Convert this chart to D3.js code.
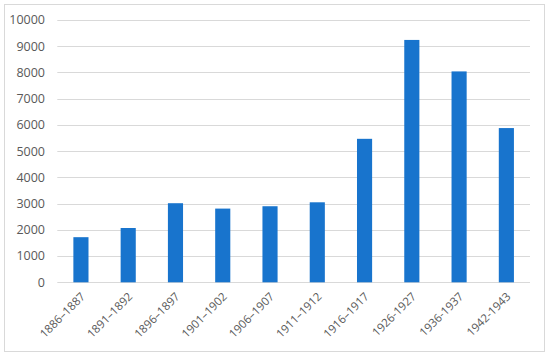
<!DOCTYPE html>
<html lang="en">
<head>
<meta charset="utf-8">
<title>bars</title>
<script src="https://cdn.jsdelivr.net/npm/d3@7"></script>
<style>
body{margin:0;background:#fff;font-family:"Open Sans",Calibri,sans-serif}
</style>
</head>
<body>
<div id="chart"></div>
<script>
// periods and counts
var periods = ["1886–1887","1891–1892","1896–1897","1901–1902","1906–1907","1911–1912","1916–1917","1926-1927","1936-1937","1942-1943"]
var counts = [1720,2070,3015,2810,2900,3050,5470,9240,8040,5880]
var yTicks = [0,1000,2000,3000,4000,5000,6000,7000,8000,9000,10000]

var w = 550, h = 357
var plotLeft = 57.3, plotRight = 530, plotTop = 20, plotBottom = 282.3

var svg = d3.select("#chart").append("svg")
	.attr("width",w).attr("height",h)

//outer frame
svg.append("rect")
	.attr("x",4.5).attr("y",4.5)
	.attr("width",540).attr("height",347)
	.attr("fill","#fff").attr("stroke","#d9d9d9")

var x = d3.scaleBand().domain(periods).range([plotLeft,plotRight]).paddingInner(0.68).paddingOuter(0.34)
var y = d3.scaleLinear().domain([0,10000]).range([plotBottom,plotTop])

//grid
svg.selectAll(".grid").data(yTicks).enter().append("line")
	.attr("class","grid")
	.attr("x1",plotLeft).attr("x2",plotRight)
	.attr("y1",function(d){return Math.round(y(d))+0.5})
	.attr("y2",function(d){return Math.round(y(d))+0.5})
	.attr("stroke","#d9d9d9").attr("stroke-width",1)

//y labels
svg.selectAll(".ylab").data(yTicks).enter().append("text")
	.attr("class","ylab")
	.attr("x",45).attr("y",function(d){return y(d)})
	.attr("dy","0.35em")
	.attr("text-anchor","end")
	.attr("font-size",12.5)
	.attr("fill","#595959")
	.text(function(d){return d})

//bars
svg.selectAll(".bar").data(counts).enter().append("rect")
	.attr("class","bar")
	.attr("x",function(d,i){return x(periods[i])})
	.attr("width",x.bandwidth())
	.attr("y",function(d){return y(d)})
	.attr("height",function(d){return y(0)-y(d)})
	.attr("fill","#1874cd")

//x labels, rotated
svg.selectAll(".xlab").data(periods).enter().append("text")
	.attr("class","xlab")
	.attr("text-anchor","end")
	.attr("font-size",11.5)
	.attr("fill","#595959")
	.attr("transform",function(d){
		var cx = x(d)+x.bandwidth()/2+5
		return "translate("+cx+","+(plotBottom+15)+") rotate(-45)"
	})
	.text(function(d){return d})
</script>
</body>
</html>
